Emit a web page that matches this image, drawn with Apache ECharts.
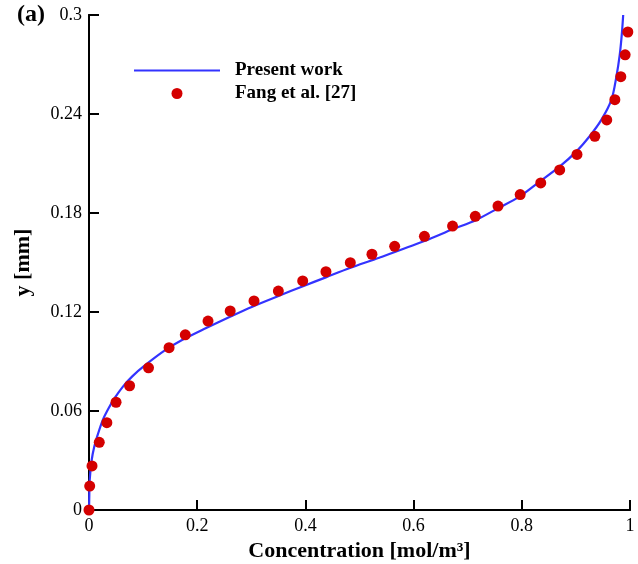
<!DOCTYPE html>
<html>
<head>
<meta charset="utf-8">
<script src="https://cdn.jsdelivr.net/npm/echarts@6/dist/echarts.min.js"></script>
<style>
  html, body { margin: 0; padding: 0; background: #fff; }
  #chart { width: 638px; height: 564px; }
</style>
</head>
<body>
<div id="chart"></div>
<script>
// Simulated concentration profile across the channel (y in mm)
const presentConc = [0, 0.0004, 0.0013, 0.005, 0.0096, 0.016, 0.0254, 0.0365, 0.0476, 0.062, 0.08,
  0.1044, 0.1415, 0.172, 0.2156, 0.2587, 0.3019, 0.3513, 0.3944, 0.4378, 0.481, 0.5365,
  0.62, 0.672, 0.7156, 0.7556, 0.7957, 0.8328, 0.8698, 0.9007, 0.9254, 0.947, 0.9656,
  0.9748, 0.981, 0.985, 0.9874];
const presentY = [0, 0.006, 0.0182, 0.0303, 0.0382, 0.0455, 0.0545, 0.0618, 0.0679, 0.0745, 0.081,
  0.0879, 0.097, 0.103, 0.1101, 0.1168, 0.1232, 0.1298, 0.1355, 0.141, 0.1465, 0.1529,
  0.163, 0.1701, 0.1758, 0.1828, 0.1899, 0.199, 0.2081, 0.2172, 0.2265, 0.2364, 0.2485,
  0.2626, 0.2758, 0.2889, 0.3];

// Reference data of Fang et al. [27]
const fangConc = [0, 0.0013, 0.0056, 0.019, 0.033, 0.050, 0.075, 0.110, 0.148, 0.178, 0.220,
  0.261, 0.305, 0.350, 0.395, 0.438, 0.483, 0.523, 0.565, 0.620, 0.672, 0.714, 0.756,
  0.797, 0.835, 0.870, 0.902, 0.935, 0.957, 0.972, 0.983, 0.991, 0.996];
const fangY = [0, 0.0145, 0.0267, 0.041, 0.0529, 0.0653, 0.0753, 0.0862, 0.0984, 0.1062, 0.1145,
  0.1206, 0.1267, 0.1327, 0.1388, 0.1444, 0.1499, 0.155, 0.1598, 0.1659, 0.1721, 0.178, 0.1842,
  0.1912, 0.1982, 0.2061, 0.2155, 0.2265, 0.2364, 0.2487, 0.2626, 0.2759, 0.2897];

const xTickLabels = ['0', '0.2', '0.4', '0.6', '0.8', '1'];
const yTickLabels = ['0', '0.06', '0.12', '0.18', '0.24', '0.3'];

const serif = '"Liberation Serif", "Times New Roman", serif';
const lineBlue = '#3333ff';
const dotRed = '#d40000';
const chart = echarts.init(document.getElementById('chart'), null, { renderer: 'canvas' });

// plain frame lines on the top and right
const edgeAxis = {
  axisLine: { show: true, lineStyle: { color: '#000', width: 2 } },
  axisTick: { show: false }, axisLabel: { show: false }, splitLine: { show: false }
};
const mainTick = { inside: true, length: 10, lineStyle: { color: '#000', width: 2 } };
const nameStyle = { fontFamily: serif, fontWeight: 'bold', fontSize: 22, color: '#000' };
const tickFont = { fontFamily: serif, fontSize: 18, color: '#000' };

chart.setOption({
  animation: false,
  backgroundColor: '#fff',
  grid: { left: 89, right: 8, top: 15, bottom: 54, containLabel: false, outerBoundsMode: 'none' },
  graphic: [{
    type: 'text', left: 17, top: 3,
    style: { text: '(a)', font: 'bold 24px ' + serif, fill: '#000' }
  }],
  legend: {
    orient: 'vertical', left: 133, top: 59, padding: 0,
    itemWidth: 86, itemHeight: 11, itemGap: 0,
    textStyle: { fontFamily: serif, fontWeight: 'bold', fontSize: 19, lineHeight: 23,
      color: '#000', padding: [0, 0, 0, 10] },
    data: [
      { name: 'Present work', itemStyle: { opacity: 0 } },
      { name: 'Fang et al. [27]' }
    ]
  },
  xAxis: [{
    type: 'value', min: 0, max: 1, interval: 0.2,
    name: 'Concentration [mol/m³]', nameLocation: 'middle', nameGap: 30,
    nameTextStyle: nameStyle,
    axisLine: { lineStyle: { color: '#000', width: 2 } },
    axisTick: mainTick,
    axisLabel: Object.assign({ margin: 7, formatter: (v) => xTickLabels[Math.round(v / 0.2)] }, tickFont),
    splitLine: { show: false }
  }, Object.assign({ type: 'value', position: 'top', min: 0, max: 1 }, edgeAxis)],
  yAxis: [{
    type: 'value', min: 0, max: 0.3, interval: 0.06,
    name: 'y [mm]', nameLocation: 'middle', nameGap: 55,
    nameTextStyle: nameStyle,
    axisLine: { lineStyle: { color: '#000', width: 2 } },
    axisTick: mainTick,
    axisLabel: Object.assign({ margin: 7, formatter: (v) => yTickLabels[Math.round(v / 0.06)] }, tickFont),
    splitLine: { show: false }
  }, Object.assign({ type: 'value', position: 'right', min: 0, max: 0.3 }, edgeAxis)],
  series: [{
    name: 'Present work', type: 'line', symbol: 'none', smooth: 0.3,
    lineStyle: { color: lineBlue, width: 2.2 }, itemStyle: { color: lineBlue },
    data: presentConc.map((c, i) => [c, presentY[i]]), z: 2
  }, {
    name: 'Fang et al. [27]', type: 'scatter', symbol: 'circle', symbolSize: 11,
    itemStyle: { color: dotRed, opacity: 1 },
    data: fangConc.map((c, i) => [c, fangY[i]]), z: 3
  }]
});
</script>
</body>
</html>
